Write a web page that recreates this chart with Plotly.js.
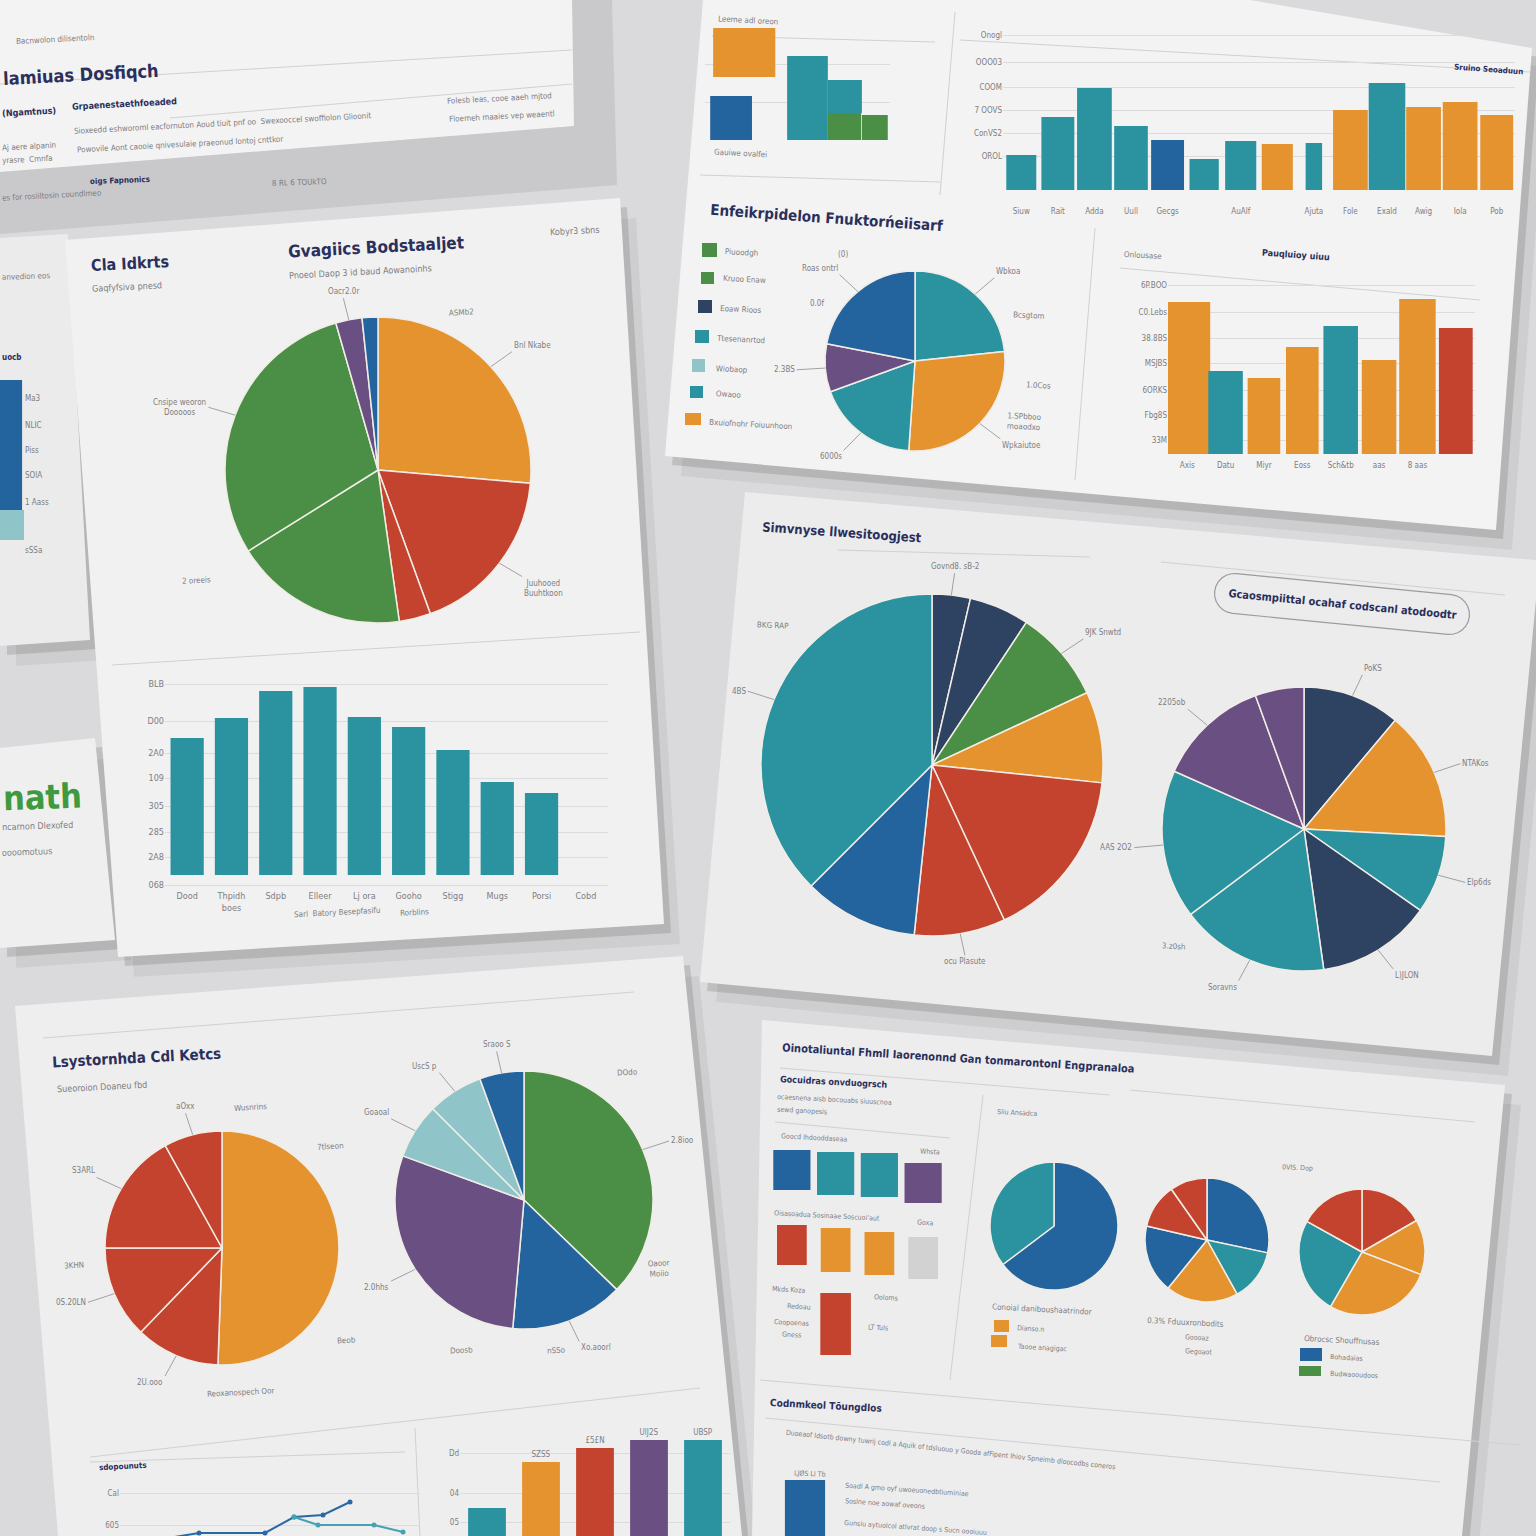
<!DOCTYPE html>
<html><head><meta charset="utf-8">
<script src="https://cdn.plot.ly/plotly-3.0.1.min.js"></script>
<style>html,body{margin:0;padding:0;background:#dadadc}#c{width:1536px;height:1536px}</style>
</head><body><div id="c"></div>
<script>
// ================= DATA =================
// Pie charts (slice values)
const pie1Values = [95, 65, 12, 66, 106, 10, 6];
const pie1Labels = ['Bnl Nkabe', 'Juuhooed<br>Buuhtkoon', '', '', 'Cnsipe weoron<br>Dooooos', 'Oacr2.0r', ''];
const pie2Values = [84, 100, 66, 31, 79];
const pie2Labels = ['Wbkoa', 'Wpkaiutoe', '6000s', '2.3BS', 'Roas ontrl'];
const pie3Values = [13, 20.5, 31.5, 31, 59, 31, 39, 135];
const pie3Labels = ['Govnd8. sB-2', '', '9JK Snwtd', '', '', 'ocu Plasute', '', '4BS'];
const pie4Values = [40, 53, 32, 47, 61, 61, 46, 20];
const pie4Labels = ['PoKS', 'NTAKos', 'Elp6ds', 'L)JLON', 'Soravns', 'AAS 2O2', '2205ob', ''];
const pie5Values = [182, 42, 46, 61, 29];
const pie5Labels = ['', '2U.ooo', '0S.20LN', 'S3ARL', 'aOxx'];
const pie6Values = [134, 51, 105, 25, 25, 20];
const pie6Labels = ['2.8ioo', 'Xo.aoorl', '2.0hhs', 'Goaoal', 'UscS p', 'Sraoo S'];
const pie7Values = [233, 127];
const pie8Values = [102, 49, 68, 64, 42, 35];
const pie9Values = [60, 51, 99, 89, 61];

// Bar chart A (teal bars, left sheet)
const barACategories = ['Dood', 'Thpidh<br>boes', 'Sdpb', 'Elleer', 'Lj ora', 'Gooho', 'Stigg', 'Mugs', 'Porsi', 'Cobd'];
const barAValues = [137, 157, 184, 188, 158, 148, 125, 93, 82];
const barATickVals = [-10, 18, 43, 69, 97, 122, 154, 191];
const barATickText = ['068', '2A8', '285', '305', '109', '2A0', 'D00', 'BLB'];

// Bar chart B (top right strip)
const barBCategories = ['Siuw', 'Rait', 'Adda', 'Uull', 'Gecgs', '', 'AuAlf', '', 'Ajuta', 'Fole', 'Exald', 'Awig', 'Iola', 'Pob'];
const barBValues = [35, 73, 102, 64, 50, 31, 49, 46, 47, 80, 107, 83, 88, 75];
const barBTickVals = [34, 57, 80, 103, 128, 155];
const barBTickText = ['OROL', 'ConVS2', '7 OOVS', 'COOM', 'OOO03', 'Onogl'];

// Bar chart C (small blocks, top right)
const barCCats = ['c1', 'c2', 'c3', 'c4', 'c5'];
const barCBlue = [44];
const barCOrange = [49];
const barCOrangeBase = [63];
const barCTeal = [84, 33];
const barCTealBase = [0, 27];
const barCGreen = [27, 25];

// Bar chart D (top right, right)
const barDCategories = ['Axis', 'Datu', 'Miyr', 'Eoss', 'Sch&tb', 'aas', '8 aas', ''];
const barDValues = [152, 83, 76, 107, 128, 94, 155, 126];
const barDTickVals = [14, 39, 64, 91, 116, 142, 169];
const barDTickText = ['33M', 'Fbg8S', '6ORKS', 'MSJBS', '38.8BS', 'C0.Lebs', '6P.BOO'];

// Bar chart E (bottom left, cut off)
const barECategories = ['Tes', 'Ora', 'Rdd', 'Pur', 'Tea'];
const barEValues = [112, 158, 172, 180, 180];
const barEText = ['', 'SZSS', '£5£N', 'UlJ2S', 'UBSP'];
const barETickVals = [98, 127, 167];
const barETickText = ['05', '04', 'Dd'];

// Line chart F (bottom left)
const lineF1x = [5, 9.9, 16.5, 19.4, 22.3, 25];
const lineF1y = [-5, 3, 3, 19, 21, 34];
const lineF2x = [19.4, 21.8, 27.4, 30.3];
const lineF2y = [19, 11, 11, 4];
const lineFTickVals = [11, 43];
const lineFTickText = ['605', 'Cal'];

// Blocks G (bottom right)
const blocksGCats = ['g1', 'g2', 'g3', 'g4'];
const blocksGRow1 = [40, 43, 44, 40];
const blocksGRow1Base = [170, 165, 163, 157];
const blocksGRow2 = [40, 44, 43, 42];
const blocksGRow2Base = [95, 88, 85, 81];
const blocksGTall = [62];
const blocksGTallBase = [5];

// Bar H (bottom right, blue)
const barHValues = [56];

// Bar I (left edge, stacked)
const barIBlue = [130];
const barIBlueBase = [50];
const barILight = [30];
const barILightBase = [20];
const barITickVals = [10, 58, 85, 110, 135, 162];
const barITickText = ['sSSa', '1 Aass', 'SOlA', 'Piss', 'NLIC', 'Ma3'];

// ================= STYLE / LAYOUT =================
const W = 1536, H = 1536;
const X = p => p / W, Y = p => 1 - p / H;
const F = 'DejaVu Sans Condensed, Liberation Sans, sans-serif';
const NAVY = '#2b2f5c', GREY = '#7d7d82';
const OR = '#e4932e', RD = '#c4432f', GR = '#4a8f45', PU = '#6a4f83', BL = '#24649e',
      TE = '#2a939f', ND = '#2e4262', LT = '#8fc4c8', LG = '#d2d2d2';

const traces = [];
const annotations = [];
const shapes = [];

function poly(pts) {
  return 'M' + pts.map(p => X(p[0]).toFixed(5) + ',' + Y(p[1]).toFixed(5)).join('L') + 'Z';
}
function sheet(pts, fill, shadow) {
  if (shadow) {
    shapes.push({type:'path', xref:'paper', yref:'paper', layer:'below', path: poly(pts.map(p=>[p[0]+16,p[1]+20])), fillcolor:'rgba(0,0,0,0.05)', line:{width:0}});
    shapes.push({type:'path', xref:'paper', yref:'paper', layer:'below', path: poly(pts.map(p=>[p[0]+7,p[1]+9])), fillcolor:'rgba(0,0,0,0.12)', line:{width:0}});
  }
  shapes.push({type:'path', xref:'paper', yref:'paper', layer:'below', path: poly(pts), fillcolor: fill, line:{width:0}});
}
function hline(x0, y0, x1, y1, color, w) {
  shapes.push({type:'line', xref:'paper', yref:'paper', layer:'below', x0:X(x0), y0:Y(y0), x1:X(x1), y1:Y(y1), line:{color: color || '#d0d0d2', width: w || 1}});
}
function swatch(x0, y0, x1, y1, color) {
  shapes.push({type:'rect', xref:'paper', yref:'paper', layer:'below', x0:X(x0), y0:Y(y1), x1:X(x1), y1:Y(y0), fillcolor: color, line:{width:0}});
}
function txt(t, x, y, size, color, angle, bold, anchor) {
  annotations.push({xref:'paper', yref:'paper', x:X(x), y:Y(y), text: bold ? '<b>'+t+'</b>' : t,
    showarrow:false, xanchor: anchor || 'left', yanchor:'middle', textangle: angle || 0,
    font:{family:F, size:size, color:color}});
}
function pie(values, colors, cx, cy, r, labels) {
  traces.push({type:'pie', values: values, sort:false, direction:'clockwise', textinfo:'none', hoverinfo:'skip',
    showlegend:false, marker:{colors: colors, line:{color:'#f1ede6', width:1.5}},
    domain:{x:[X(cx-r), X(cx+r)], y:[Y(cy+r), Y(cy-r)]}});
  if (!labels) return;
  const tot = values.reduce((a,b)=>a+b, 0);
  let cum = 0;
  values.forEach((v, i) => {
    const mid = (cum + v/2) / tot * 2 * Math.PI;
    cum += v;
    if (!labels[i]) return;
    const s = Math.sin(mid), c = Math.cos(mid), L = 22;
    annotations.push({xref:'paper', yref:'paper', x: X(cx + r*s), y: Y(cy - r*c),
      ax: L*s*1.3, ay: -L*c, showarrow:true, arrowhead:0, arrowwidth:0.8, arrowcolor:'#8d8d90',
      text: labels[i], xanchor: s > 0.3 ? 'left' : (s < -0.3 ? 'right' : 'center'),
      yanchor: c > 0.5 ? 'bottom' : (c < -0.5 ? 'top' : 'middle'),
      font:{family:F, size:8, color:GREY}});
  });
}

// ---------- sheets ----------
sheet([[0,0],[612,0],[617,185],[0,234]], '#c9c9cb', false);
sheet([[0,0],[572,0],[574,126],[0,172]], '#f3f3f3', false);
sheet([[0,238],[68,234],[90,640],[0,646]], '#ebebeb', true);
sheet([[0,748],[95,738],[115,940],[0,948]], '#efefef', true);
sheet([[65,240],[620,198],[664,924],[118,957]], '#f1f1f1', true);
sheet([[15,1006],[683,956],[742,1536],[58,1536]], '#eeeeee', true);
sheet([[762,1020],[1505,1085],[1462,1536],[752,1536]], '#ededed', true);
sheet([[745,492],[1536,560],[1536,600],[1492,1056],[700,982]], '#ececec', true);
sheet([[703,0],[1250,0],[1532,48],[1496,530],[665,456]], '#f3f3f3', true);

// decorative rules
hline(0,84,572,50); hline(170,118,572,84);
hline(112,665,640,632);
hline(712,36,935,42); hline(700,175,940,182); hline(955,12,940,195); hline(1095,228,1075,480);
hline(960,40,1530,72); hline(1120,268,1480,300);
hline(838,550,1090,557); hline(1161,562,1505,595);
hline(43,1038,634,992); hline(90,1457,700,1388); hline(415,1428,420,1536); hline(90,1462,405,1452);
hline(780,1068,1110,1095); hline(1130,1090,1475,1122); hline(775,1122,950,1138); hline(983,1095,950,1380);
hline(760,1380,1520,1445); hline(765,1418,1440,1482);
// legend swatches
swatch(702,243,717,257,GR); swatch(701,272,714,284,GR); swatch(698,300,712,313,ND);
swatch(695,330,709,343,TE); swatch(692,359,705,372,LT); swatch(690,386,703,398,TE); swatch(685,413,701,425,OR);
swatch(994,1320,1009,1332,OR); swatch(991,1335,1007,1347,OR);
swatch(1300,1348,1322,1361,BL); swatch(1299,1366,1321,1376,GR);
// rounded label box
(function(){
  const cx = 1342, cy = 604, a = 128, r = 20, th = 5.6*Math.PI/180, pts = [];
  for (let k = -90; k <= 90; k += 15) { const f = k*Math.PI/180; pts.push([a - r + r*Math.cos(f), r*Math.sin(f)]); }
  for (let k = 90; k <= 270; k += 15) { const f = k*Math.PI/180; pts.push([-(a - r) + r*Math.cos(f), r*Math.sin(f)]); }
  const P = pts.map(p => [cx + p[0]*Math.cos(th) - p[1]*Math.sin(th), cy + p[0]*Math.sin(th) + p[1]*Math.cos(th)]);
  shapes.push({type:'path', xref:'paper', yref:'paper', layer:'below', path: poly(P), fillcolor:'rgba(0,0,0,0)', line:{color:'#9c9ca0', width:1.2}});
})();

// ---------- pies ----------
pie(pie1Values, [OR,RD,RD,GR,GR,PU,BL], 378, 470, 153, pie1Labels);
pie(pie2Values, [TE,OR,TE,PU,BL], 915, 361, 90, pie2Labels);
pie(pie3Values, [ND,ND,GR,OR,RD,RD,BL,TE], 932, 765, 171, pie3Labels);
pie(pie4Values, [ND,OR,TE,ND,TE,TE,PU,PU], 1304, 829, 142, pie4Labels);
pie(pie5Values, [OR,RD,RD,RD,RD], 222, 1248, 117, pie5Labels);
pie(pie6Values, [GR,BL,PU,LT,LT,BL], 524, 1200, 129, pie6Labels);
pie(pie7Values, [BL,TE], 1054, 1226, 64);
pie(pie8Values, [BL,TE,OR,BL,RD,RD], 1207, 1240, 62);
pie(pie9Values, [RD,OR,OR,TE,RD], 1362, 1252, 63);

// ---------- bars ----------
const idx = a => a.map((_, i) => i);
traces.push({type:'bar', xaxis:'x', yaxis:'y', x: idx(barAValues), y: barAValues, width:0.75, marker:{color:TE}, hoverinfo:'skip'});
traces.push({type:'bar', xaxis:'x2', yaxis:'y2', x: idx(barBValues), y: barBValues,
  width:[0.82,0.9,0.95,0.92,0.9,0.8,0.85,0.85,0.45,0.95,1,0.95,0.95,0.9],
  marker:{color:[TE,TE,TE,TE,BL,TE,TE,OR,TE,OR,TE,OR,OR,OR]}, hoverinfo:'skip'});
traces.push({type:'bar', xaxis:'x3', yaxis:'y3', x:[0], y: barCBlue, offset:-0.36, width:1.13, marker:{color:BL}, hoverinfo:'skip'});
traces.push({type:'bar', xaxis:'x3', yaxis:'y3', x:[0], y: barCOrange, base: barCOrangeBase, offset:-0.28, width:1.68, marker:{color:OR}, hoverinfo:'skip'});
traces.push({type:'bar', xaxis:'x3', yaxis:'y3', x:[2,3], y: barCTeal, base: barCTealBase, offset:[-0.28,-0.18], width:[1.1,0.92], marker:{color:TE}, hoverinfo:'skip'});
traces.push({type:'bar', xaxis:'x3', yaxis:'y3', x:[3,4], y: barCGreen, offset:[-0.18,-0.26], width:[0.9,0.7], marker:{color:GR}, hoverinfo:'skip'});
traces.push({type:'bar', xaxis:'x4', yaxis:'y4', x: idx(barDValues), y: barDValues,
  width:[1.2,0.9,0.85,0.85,0.9,0.9,0.95,0.88], marker:{color:[OR,TE,OR,OR,TE,OR,OR,RD]}, hoverinfo:'skip'});
traces.push({type:'bar', xaxis:'x5', yaxis:'y5', x: idx(barEValues), y: barEValues, width:0.7,
  text: barEText, textposition:'outside', cliponaxis:false, textfont:{family:F, size:8, color:GREY},
  marker:{color:[TE,OR,RD,PU,TE]}, hoverinfo:'skip'});
traces.push({type:'scatter', mode:'lines+markers', xaxis:'x6', yaxis:'y6', x: lineF1x, y: lineF1y,
  line:{color:'#2a68a4', width:2}, marker:{size:5, color:'#2a68a4'}, hoverinfo:'skip'});
traces.push({type:'scatter', mode:'lines+markers', xaxis:'x6', yaxis:'y6', x: lineF2x, y: lineF2y,
  line:{color:'#43a3b4', width:2}, marker:{size:5, color:'#43a3b4'}, hoverinfo:'skip'});
traces.push({type:'bar', xaxis:'x7', yaxis:'y7', x: idx(blocksGRow1), y: blocksGRow1, base: blocksGRow1Base, width:0.85,
  marker:{color:[BL,TE,TE,PU]}, hoverinfo:'skip'});
traces.push({type:'bar', xaxis:'x7', yaxis:'y7', x: idx(blocksGRow2), y: blocksGRow2, base: blocksGRow2Base, width:0.68,
  marker:{color:[RD,OR,OR,LG]}, hoverinfo:'skip'});
traces.push({type:'bar', xaxis:'x7', yaxis:'y7', x:[1], y: blocksGTall, base: blocksGTallBase, width:0.7, marker:{color:RD}, hoverinfo:'skip'});
traces.push({type:'bar', xaxis:'x8', yaxis:'y8', x:[0], y: barHValues, width:0.67, marker:{color:BL}, hoverinfo:'skip'});
traces.push({type:'bar', xaxis:'x9', yaxis:'y9', x:[0], y: barILight, base: barILightBase, width:1, marker:{color:LT}, hoverinfo:'skip'});
traces.push({type:'bar', xaxis:'x9', yaxis:'y9', x:[0], y: barIBlue, base: barIBlueBase, offset:-0.5, width:0.92, marker:{color:BL}, hoverinfo:'skip'});

// ---------- axes ----------
const tf = (s) => ({family:F, size:s || 9, color:GREY});
function xa(d0, d1, n, anchor, ticktext, extra) {
  return Object.assign({domain:[X(d0), X(d1)], range:[-0.5, n-0.5], anchor: anchor, showgrid:false, zeroline:false,
    showline:false, ticks:'', tickmode:'array', tickvals: ticktext ? idx(ticktext) : [], ticktext: ticktext || [],
    showticklabels: !!ticktext, tickfont: tf(9), fixedrange:true}, extra || {});
}
function ya(bottom, top, range, anchor, vals, text, extra) {
  return Object.assign({domain:[Y(bottom), Y(top)], range: range, anchor: anchor, showgrid:true, gridcolor:'#dcdcde',
    zeroline:false, showline:false, ticks:'', tickmode:'array', tickvals: vals || [], ticktext: text || [],
    showticklabels: !!text, tickfont: tf(9), fixedrange:true}, extra || {});
}

const layout = {
  width: W, height: H, autosize:false, margin:{l:0, r:0, t:0, b:0, pad:0},
  paper_bgcolor:'#dadadc', plot_bgcolor:'rgba(0,0,0,0)', barmode:'overlay', showlegend:false,
  font:{family:F},
  xaxis:  xa(165, 608, 10, 'y', barACategories),
  yaxis:  ya(889, 670, [-14, 205], 'x', barATickVals, barATickText),
  xaxis2: xa(1003, 1515, 14, 'y2', barBCategories, {tickfont: tf(8), tickangle:0}),
  yaxis2: ya(205, 30, [-15, 160], 'x2', barBTickVals, barBTickText, {tickfont: tf(8)}),
  xaxis3: xa(705, 890, 5, 'y3'),
  yaxis3: ya(140, 25, [0, 115], 'x3', [0, 38, 76, 114], null),
  xaxis4: xa(1168, 1475, 8, 'y4', barDCategories, {tickfont: tf(8)}),
  yaxis4: ya(459, 274, [-5, 180], 'x4', barDTickVals, barDTickText, {tickfont: tf(8)}),
  xaxis5: xa(460, 730, 5, 'y5'),
  yaxis5: ya(1536, 1400, [84, 220], 'x5', barETickVals, barETickText, {tickfont: tf(8)}),
  xaxis6: {domain:[X(120), X(420)], range:[2, 32], anchor:'y6', showgrid:false, zeroline:false, showline:false, showticklabels:false, ticks:'', fixedrange:true},
  yaxis6: ya(1536, 1470, [0, 66], 'x6', lineFTickVals, lineFTickText, {tickfont: tf(8)}),
  xaxis7: xa(770, 945, 4, 'y7'),
  yaxis7: ya(1360, 1140, [0, 220], 'x7', [], null, {showgrid:false}),
  xaxis8: xa(775, 835, 1, 'y8'),
  yaxis8: ya(1536, 1470, [0, 66], 'x8', [], null, {showgrid:false}),
  xaxis9: xa(0, 24, 1, 'y9'),
  yaxis9: ya(560, 380, [0, 180], 'x9', barITickVals, barITickText, {side:'right', showgrid:false, tickfont: tf(8)}),
  shapes: shapes,
  annotations: annotations
};

// ---------- texts ----------
const N = NAVY, G = GREY;
const T = [
  ['Bacnwolon dilisentoln',14,40,8,G,-3],
  ['lamiuas Dosfiqch',0,74,18,N,-3,1],
  ['(Ngamtnus)',0,112,9,N,-3,1],
  ['Grpaenestaethfoeaded',70,104,9,N,-3,1],
  ['Sioxeedd eshworoml eacfornuton Aoud tiuit pnf oo  Swexooccel swoffiolon Glioonit',72,124,8,G,-3],
  ['Powovile Aont caooie qnivesulaie praeonud lontoj cnttkor',75,144,8,G,-3],
  ['Folesb leas, cooe aaeh mjtod',445,98,8,G,-3],
  ['Floemeh maaies vep weaentl',447,116,8,G,-3],
  ['Aj aere alpanin',0,146,8,G,-3],
  ['yrasre  Cmnfa',0,160,8,G,-3],
  ['oigs Fapnonics',88,180,8,N,-2,1],
  ['8 RL 6 TOUkTO',270,182,8,G,-2],
  ['es for rosiiltosin coundlmeo',0,196,8,G,-3],
  ['anvedion eos',0,276,8,G,-2],
  ['uocb',0,357,8,N,0,1],
  ['nath',0,797,34,'#3f9a3f',-2,1],
  ['ncarnon Dlexofed',0,826,9,G,-2],
  ['oooomotuus',0,852,9,G,-2],
  ['Cla Idkrts',88,263,16,N,-3,1],
  ['Gaqfyfsiva pnesd',90,287,9,G,-3],
  ['Gvagiics Bodstaaljet',285,247,17,N,-3,1],
  ['Pnoeol Daop 3 id baud Aowanoinhs',287,272,9,G,-3],
  ['Kobyr3 sbns',548,231,9,G,-3],
  ['ASMb2',447,313,8,G,-3],
  ['2 oreeis',180,580,8,G,-3],
  ['Sarl  Batory Besepfasifu',292,912,8,G,-3],
  ['Rorblins',398,912,8,G,-3],
  ['Leeme adl oreon',716,20,8,G,3],
  ['Gauiwe ovalfei',712,154,8,G,3],
  ['Sruino Seoaduun',1452,70,8,N,4,1],
  ['Enfeikrpidelon Fnuktorńeiisarf',708,218,15,N,4,1],
  ['Piuoodgh',723,252,8,G,3], ['Kruoo Enaw',721,280,8,G,3], ['Eoaw Rioos',718,310,8,G,3],
  ['Ttesenanrtod',714,339,8,G,3], ['Wiobaop',714,369,8,G,3], ['Owaoo',714,394,8,G,3],
  ['Bxuiofnohr Foiuunhoon',707,425,8,G,3],
  ['Onlousase',1122,255,8,G,3],
  ['Pauqluioy uiuu',1260,255,9,N,4,1],
  ['(0)',836,254,8,G,0], ['0.0f',808,303,8,G,0], ['Bcsgtom',1011,316,8,G,3], ['1.0Cos',1024,386,8,G,3],
  ['1.SPbboo<br>moaodxo',1004,421,8,G,3],
  ['Simvnyse llwesitoogjest',760,533,13,N,4,1],
  ['BKG RAP',755,625,8,G,3],
  ['3.z0sh',1160,946,8,G,3],
  ['Gcaosmpiittal ocahaf codscanl atodoodtr',1342,604,11,N,5.5,1,'center'],
  ['Lsystornhda Cdl Ketcs',50,1058,15,N,-3,1],
  ['Sueoroion Doaneu fbd',55,1087,9,G,-3],
  ['Wusnrins',232,1107,8,G,-3], ['3KHN',62,1265,8,G,-3], ['7tlseon',315,1146,8,G,-3],
  ['Beob',335,1340,8,G,-3], ['Reoxanospech Oor',205,1392,8,G,-3],
  ['DOdo',615,1072,8,G,-3], ['Oaoor<br>Moiio',645,1268,8,G,-3], ['Doosb',448,1350,8,G,-3], ['nSSo',545,1350,8,G,-3],
  ['sdopounuts',97,1466,8,N,-3,1],
  ['Oinotaliuntal Fhmll Iaorenonnd Gan tonmarontonl Engpranaloa',780,1058,11,N,3.5,1],
  ['Gocuidras onvduogrsch',778,1082,9,N,3,1],
  ['ocaesnena aisb bocouabs siuuscnoa',775,1100,7,G,3],
  ['sewd ganopesis',775,1111,7,G,3],
  ['Goocd Ihdooddaseaa',779,1138,7,G,3],
  ['Whsta',918,1152,7,G,3],
  ['Oisasoadua Sosinaae Soscuoi\'aut',772,1216,7,G,3],
  ['Goxa',915,1223,7,G,3],
  ['Mkds Koza',770,1290,7,G,3], ['Redoau',785,1307,7,G,3], ['Coopoenas',772,1323,7,G,3], ['Gness',780,1335,7,G,3],
  ['Ooloms',872,1298,7,G,3], ['LT Tuls',866,1328,7,G,3],
  ['Sliu Ansadca',995,1113,7,G,3],
  ['Conoial daniboushaatrindor',990,1309,8,G,3],
  ['Dianso.n',1015,1329,7,G,3], ['Taooe anagigac',1015,1348,7,G,3],
  ['0.3% Fduuxronbodits',1145,1322,8,G,3],
  ['Goooaz',1183,1338,7,G,3], ['Gegoaot',1183,1352,7,G,3],
  ['Obrocsc Shouffnusas',1302,1340,8,G,3],
  ['Bohadaias',1328,1358,7,G,3], ['Budwaooudoos',1328,1375,7,G,3],
  ['0VIS. Dop',1280,1168,7,G,3],
  ['Codnmkeol Tōungdlos',768,1405,10,N,3,1],
  ['Duoeaof Idsotb downy tuwrij codl a Aquik of tdsluouo y Gooda afFipent Ihiov Spneimb dloocodbs coneros',783,1450,7,G,6],
  ['LJØS LI Tb',792,1474,7,G,3],
  ['Soadl A gmo oyf uwoeuonedbtiuminiae',843,1490,7,G,4],
  ['Soslne noe aowaf oveons',843,1504,7,G,4],
  ['Gunsiu aytuolcol atlvrat doop s Sucn oooiuuu',842,1528,7,G,4]
];
T.forEach(t => txt(t[0], t[1], t[2], t[3], t[4], t[5], t[6], t[7]));

Plotly.newPlot('c', traces, layout, {displayModeBar:false, staticPlot:true});
</script>
</body></html>
